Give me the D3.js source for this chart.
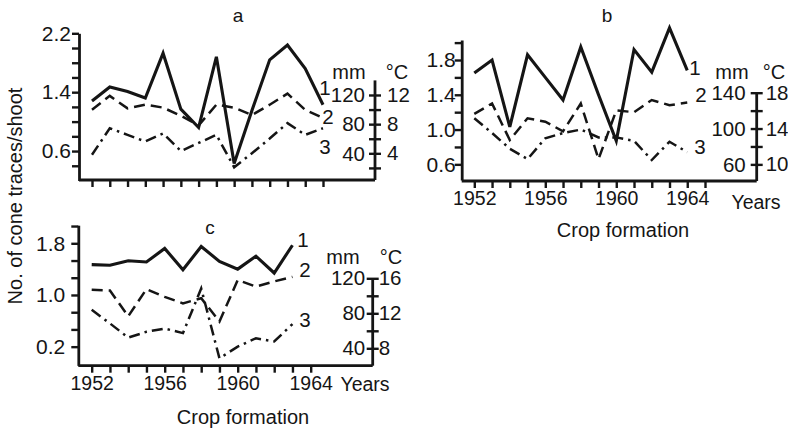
<!DOCTYPE html>
<html><head><meta charset="utf-8">
<script src="https://cdn.jsdelivr.net/npm/d3@7"></script>
<style>
body{margin:0;background:#fff}
svg text{font-family:"Liberation Sans",Arial,sans-serif;fill:#151515}
</style>
</head><body>
<svg id="chart" width="788" height="430"></svg>
<script>
// ---------- data ----------
const yearsA = [1952,1953,1954,1955,1956,1957,1958,1959,1960,1961,1962,1963,1964,1965];
const coneA  = [1.28,1.47,1.41,1.32,1.93,1.17,0.92,1.88,0.43,1.15,1.84,2.04,1.72,1.23];
const line2A = [1.16,1.35,1.18,1.23,1.19,1.08,0.95,1.23,1.19,1.09,1.23,1.38,1.16,1.05];
const line3A = [0.55,0.91,0.82,0.73,0.84,0.60,0.71,0.82,0.38,0.57,0.77,0.98,0.82,0.91];

const yearsB = [1952,1953,1954,1955,1956,1957,1958,1959,1960,1961,1962,1963,1964];
const coneB  = [1.65,1.80,1.03,1.86,1.60,1.34,1.95,1.40,0.87,1.92,1.66,2.17,1.68];
const line2B = [1.18,1.30,0.88,1.13,1.09,0.98,1.30,0.66,1.22,1.20,1.34,1.28,1.31];
const line3B = [1.13,0.96,0.78,0.66,0.90,0.96,1.00,0.91,0.91,0.87,0.65,0.86,0.74];

const yearsC = [1952,1953,1954,1955,1956,1957,1958,1959,1960,1961,1962,1963];
const coneC  = [1.47,1.46,1.53,1.51,1.72,1.39,1.75,1.52,1.40,1.60,1.34,1.77];
const line2C = [1.08,1.07,0.67,1.09,0.97,0.87,0.95,0.59,1.23,1.13,1.21,1.28];
const line3C = [0.77,0.56,0.34,0.43,0.48,0.41,1.10,0.02,0.20,0.33,0.28,0.55];

const yearTicksAB = [1952,1953,1954,1955,1956,1957,1958,1959,1960,1961,1962,1963,1964,1965];
const yearTicksC  = [1952,1953,1954,1955,1956,1957,1958,1959,1960,1961,1962,1963,1964];
const yearLabels  = [1952,1956,1960,1964];

const leftTicksA  = [0.4,0.6,0.8,1.0,1.2,1.4,1.6,1.8,2.0,2.2];
const leftLabelsA = [0.6,1.4,2.2];
const leftTicksB  = [0.6,0.8,1.0,1.2,1.4,1.6,1.8,2.0];
const leftLabelsB = [0.6,1.0,1.4,1.8];
const leftTicksC  = [0.2,0.467,0.733,1.0,1.267,1.533,1.8,2.067];
const leftLabelsC = [0.2,1.0,1.8];

const mmTicksA = [20,40,60,80,100,120];
const mmLabelsA = [40,80,120];
const degLabelsA = [4,8,12];
const mmTicksB = [60,80,100,120,140];
const mmLabelsB = [60,100,140];
const degLabelsB = [10,14,18];
const mmTicksC = [40,60,80,100,120];
const mmLabelsC = [40,80,120];
const degLabelsC = [8,12,16];

// ---------- drawing ----------
const svg = d3.select('#chart');
const INK = '#151515';
const near = (arr, v) => arr.some(a => Math.abs(a - v) < 1e-6);
const fmt1 = v => v.toFixed(1);

function panel(cfg) {
  const g = svg.append('g');
  const x = d3.scaleLinear().domain(cfg.xDomain).range(cfg.xRange);
  const y = d3.scaleLinear().domain(cfg.yDomain).range(cfg.yRange);
  const r = d3.scaleLinear().domain(cfg.rDomain).range(cfg.rRange);

  // frame: bottom axis line and right axis line
  g.append('line').attr('x1', cfg.left).attr('x2', cfg.right)
    .attr('y1', cfg.bottom).attr('y2', cfg.bottom)
    .attr('stroke', INK).attr('stroke-width', 2.8);
  g.append('line').attr('x1', cfg.right).attr('x2', cfg.right)
    .attr('y1', r(cfg.rDomain[1])).attr('y2', cfg.bottom)
    .attr('stroke', INK).attr('stroke-width', 2.8);

  // left axis
  const la = g.append('g').attr('transform', `translate(${cfg.left},0)`)
    .call(d3.axisLeft(y).tickValues(cfg.leftTicks).tickSize(7).tickSizeOuter(0).tickPadding(cfg.leftPad)
      .tickFormat(v => near(cfg.leftLabels, v) ? fmt1(v) : ''));
  la.select('.domain').attr('stroke', INK).attr('stroke-width', 2.8);
  la.selectAll('.tick line').attr('stroke', INK).attr('stroke-width', 2.4);
  la.selectAll('.tick text').attr('font-size', 21).attr('fill', INK);

  // bottom axis (ticks only)
  const ba = g.append('g').attr('transform', `translate(0,${cfg.bottom})`)
    .call(d3.axisBottom(x).tickValues(cfg.yearTicks).tickSize(7).tickSizeOuter(0).tickPadding(3)
      .tickFormat(v => (cfg.showYears && yearLabels.includes(v)) ? String(v) : ''));
  ba.select('.domain').remove();
  ba.selectAll('.tick line').attr('stroke', INK).attr('stroke-width', 2.4);
  ba.selectAll('.tick text').attr('font-size', 19.5).attr('fill', INK);

  // right axis with °C labels on the right, mm on the left
  const ra = g.append('g').attr('transform', `translate(${cfg.right},0)`)
    .call(d3.axisRight(r).tickValues(cfg.mmTicks).tickSize(6).tickSizeOuter(0).tickPadding(cfg.rPad)
      .tickFormat(v => { const i = cfg.mmLabels.indexOf(v); return i >= 0 ? String(cfg.degLabels[i]) : ''; }));
  ra.select('.domain').remove();
  ra.selectAll('.tick line').attr('x1', -6).attr('stroke', INK).attr('stroke-width', 2.4);
  ra.selectAll('.tick text').attr('font-size', 20.5).attr('fill', INK);
  g.selectAll('.mmlab').data(cfg.mmLabels).enter().append('text')
    .attr('x', cfg.right - cfg.mmGap).attr('y', d => r(d)).attr('dy', '0.35em')
    .attr('text-anchor', 'end').attr('font-size', 20.5).text(d => d);
  g.append('text').attr('x', cfg.mmPos[0]).attr('y', cfg.mmPos[1]).attr('dy', '0.35em')
    .attr('text-anchor', 'middle').attr('font-size', 20).text('mm');
  g.append('text').attr('x', cfg.degPos[0]).attr('y', cfg.degPos[1]).attr('dy', '0.35em')
    .attr('text-anchor', 'middle').attr('font-size', 20).text('°C');

  // title
  g.append('text').attr('x', cfg.titlePos[0]).attr('y', cfg.titlePos[1]).attr('dy', '0.35em')
    .attr('text-anchor', 'middle').attr('font-size', 19).text(cfg.title);

  // series
  const styles = [
    {w: 3.1, dash: null},
    {w: 2.5, dash: '11,6'},
    {w: 2.5, dash: '11,5,2.5,5'}
  ];
  cfg.series.forEach((s, i) => {
    const line = d3.line().x((d, j) => x(cfg.years[j])).y(d => y(d));
    g.append('path').datum(s).attr('d', line).attr('fill', 'none')
      .attr('stroke', INK).attr('stroke-width', styles[i].w)
      .attr('stroke-linejoin', 'miter').attr('stroke-dasharray', styles[i].dash);
  });
  cfg.seriesLabels.forEach((p, i) => {
    g.append('text').attr('x', p[0]).attr('y', p[1]).attr('dy', '0.35em')
      .attr('text-anchor', 'middle').attr('font-size', 20.5).text(String(i + 1));
  });

  if (cfg.showYears) {
    g.append('text').attr('x', cfg.yearsPos[0]).attr('y', cfg.yearsPos[1]).attr('dy', '0.35em')
      .attr('text-anchor', 'middle').attr('font-size', 19.5).text('Years');
    g.append('text').attr('x', cfg.cropPos[0]).attr('y', cfg.cropPos[1]).attr('dy', '0.35em')
      .attr('text-anchor', 'middle').attr('font-size', 20).text('Crop formation');
  }
}

panel({
  title: 'a', titlePos: [238, 15],
  years: yearsA, series: [coneA, line2A, line3A],
  xDomain: [1952, 1965], xRange: [92, 323],
  yDomain: [0.2, 2.2], yRange: [180.5, 33.3],
  rDomain: [0, 140], rRange: [182.5, 80.4],
  left: 79, right: 375, bottom: 180, leftPad: 1, rPad: 6, mmGap: 10,
  leftTicks: leftTicksA, leftLabels: leftLabelsA,
  yearTicks: yearTicksAB, showYears: false,
  mmTicks: mmTicksA, mmLabels: mmLabelsA, degLabels: degLabelsA,
  mmPos: [349, 72], degPos: [397, 72],
  seriesLabels: [[325, 88], [328, 117], [325, 147]]
});

panel({
  title: 'b', titlePos: [607, 15],
  years: yearsB, series: [coneB, line2B, line3B],
  xDomain: [1952, 1965], xRange: [474.3, 705],
  yDomain: [0.42, 2.03], yRange: [180, 40],
  rDomain: [40, 140], rRange: [182.3, 92.7],
  left: 461.7, right: 756.7, bottom: 181, leftPad: -1, rPad: 3, mmGap: 11,
  leftTicks: leftTicksB, leftLabels: leftLabelsB,
  yearTicks: yearTicksAB, showYears: true,
  mmTicks: mmTicksB, mmLabels: mmLabelsB, degLabels: degLabelsB,
  mmPos: [732, 72], degPos: [774, 72],
  seriesLabels: [[695, 68], [701, 95], [700, 147]],
  yearsPos: [756, 202], cropPos: [623, 230]
});

panel({
  title: 'c', titlePos: [210, 227],
  years: yearsC, series: [coneC, line2C, line3C],
  xDomain: [1952, 1964], xRange: [91.7, 310.7],
  yDomain: [-0.09, 2.08], yRange: [365.4, 225.2],
  rDomain: [20, 120], rRange: [365.8, 278.3],
  left: 78.3, right: 372.7, bottom: 365.7, leftPad: 6, rPad: 0, mmGap: 7.5,
  leftTicks: leftTicksC, leftLabels: leftLabelsC,
  yearTicks: yearTicksC, showYears: true,
  mmTicks: mmTicksC, mmLabels: mmLabelsC, degLabels: degLabelsC,
  mmPos: [343, 257], degPos: [391, 257],
  seriesLabels: [[303, 240], [305, 270], [305, 320]],
  yearsPos: [365, 384], cropPos: [243, 417]
});

// shared y-axis title
svg.append('text').attr('transform', 'translate(15,196) rotate(-90)').attr('dy', '0.35em')
  .attr('text-anchor', 'middle').attr('font-size', 20).text('No. of cone traces/shoot');
</script>
</body></html>
